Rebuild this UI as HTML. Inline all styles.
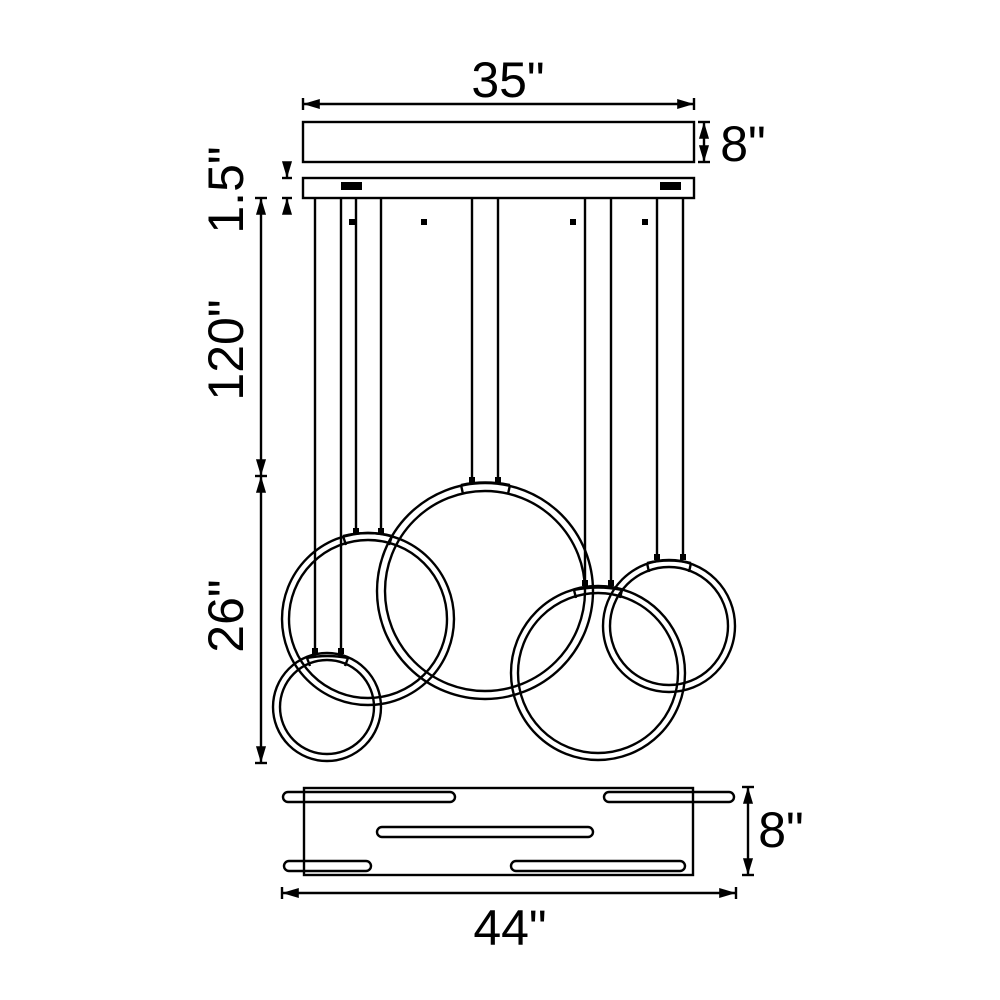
<!DOCTYPE html>
<html><head><style>html,body{margin:0;padding:0;background:#fff}svg{display:block}</style></head>
<body>
<svg width="1000" height="1000" viewBox="0 0 1000 1000" xmlns="http://www.w3.org/2000/svg">
<defs>
<marker id="a" viewBox="0 0 10 10" refX="10" refY="5" markerWidth="7" markerHeight="7" orient="auto-start-reverse"><path d="M0,2 L10,5 L0,8 Z" fill="#000"/></marker>
</defs>
<g fill="none" stroke="#000" stroke-width="2.4">
<line x1="303" y1="104" x2="694" y2="104" marker-start="url(#a)" marker-end="url(#a)"/>
<line x1="303" y1="98" x2="303" y2="110"/><line x1="694" y1="98" x2="694" y2="110"/>
<rect x="303" y="122" width="391" height="40"/>
<line x1="704" y1="122" x2="704" y2="162" marker-start="url(#a)" marker-end="url(#a)"/>
<line x1="698" y1="122" x2="710" y2="122"/><line x1="698" y1="162" x2="710" y2="162"/>
<rect x="303" y="178" width="391" height="20"/>
<line x1="287" y1="164" x2="287" y2="178" marker-end="url(#a)"/>
<line x1="287" y1="212" x2="287" y2="198" marker-end="url(#a)"/>
<line x1="282" y1="178" x2="292" y2="178"/><line x1="282" y1="198" x2="292" y2="198"/>
<line x1="261" y1="198" x2="261" y2="476" marker-start="url(#a)" marker-end="url(#a)"/>
<line x1="261" y1="476" x2="261" y2="763" marker-start="url(#a)" marker-end="url(#a)"/>
<line x1="255" y1="198" x2="267" y2="198"/><line x1="255" y1="476" x2="267" y2="476"/><line x1="255" y1="763" x2="267" y2="763"/>
<line x1="315" y1="198" x2="315" y2="652"/><line x1="341" y1="198" x2="341" y2="652"/>
<line x1="356" y1="198" x2="356" y2="532"/><line x1="381" y1="198" x2="381" y2="532"/>
<line x1="472" y1="198" x2="472" y2="481"/><line x1="498" y1="198" x2="498" y2="481"/>
<line x1="585" y1="198" x2="585" y2="584"/><line x1="611" y1="198" x2="611" y2="584"/>
<line x1="657" y1="198" x2="657" y2="558"/><line x1="683" y1="198" x2="683" y2="558"/>
<circle cx="368" cy="619" r="86"/><circle cx="368" cy="619" r="79"/>
<circle cx="485" cy="591" r="108"/><circle cx="485" cy="591" r="100"/>
<circle cx="327" cy="707" r="54"/><circle cx="327" cy="707" r="47"/>
<circle cx="598" cy="673" r="87"/><circle cx="598" cy="673" r="80"/>
<circle cx="669" cy="626" r="66"/><circle cx="669" cy="626" r="59"/>
<path d="M343,536 L346,545 M392,536 L389,545 M343,536 Q368,530 392,536"/>
<path d="M461,485 L463,494 M510,485 L508,494 M461,485 Q485,480 510,485"/>
<path d="M307,658 L310,666 M348,658 L345,666 M307,658 Q327,654 348,658"/>
<path d="M574,590 L576,598 M622,590 L620,598 M574,590 Q598,585 622,590"/>
<path d="M647,563 L649,572 M691,563 L689,572 M647,563 Q669,558 691,563"/>
<rect x="304" y="788" width="389" height="87"/>
<rect x="283" y="792" width="172" height="10" rx="5"/>
<rect x="604" y="792" width="130" height="10" rx="5"/>
<rect x="377" y="827" width="216" height="10" rx="5"/>
<rect x="284" y="861" width="87" height="10" rx="5"/>
<rect x="511" y="861" width="174" height="10" rx="5"/>
<line x1="748" y1="787" x2="748" y2="875" marker-start="url(#a)" marker-end="url(#a)"/>
<line x1="742" y1="787" x2="754" y2="787"/><line x1="742" y1="875" x2="754" y2="875"/>
<line x1="282" y1="893" x2="736" y2="893" marker-start="url(#a)" marker-end="url(#a)"/>
<line x1="282" y1="887" x2="282" y2="899"/><line x1="736" y1="887" x2="736" y2="899"/>
</g>
<g fill="#000">
<rect x="341" y="182" width="21" height="8"/><rect x="660" y="182" width="21" height="8"/>
<rect x="349" y="219" width="6" height="6"/><rect x="421" y="219" width="6" height="6"/>
<rect x="570" y="219" width="6" height="6"/><rect x="642" y="219" width="6" height="6"/>
<rect x="353" y="528" width="6" height="6"/><rect x="378" y="528" width="6" height="6"/>
<rect x="469" y="477" width="6" height="6"/><rect x="495" y="477" width="6" height="6"/>
<rect x="312" y="648" width="6" height="6"/><rect x="338" y="648" width="6" height="6"/>
<rect x="582" y="580" width="6" height="6"/><rect x="608" y="580" width="6" height="6"/>
<rect x="654" y="554" width="6" height="6"/><rect x="680" y="554" width="6" height="6"/>
</g>
<g font-family="Liberation Sans, sans-serif" font-size="50" fill="#000" text-anchor="middle">
<text x="508" y="97">35"</text>
<text x="743" y="161">8"</text>
<text x="781" y="847">8"</text>
<text x="510" y="945">44"</text>
<text transform="translate(243,190) rotate(-90)">1.5"</text>
<text transform="translate(243,350) rotate(-90)">120"</text>
<text transform="translate(243,616) rotate(-90)">26"</text>
</g>
</svg>
</body></html>
